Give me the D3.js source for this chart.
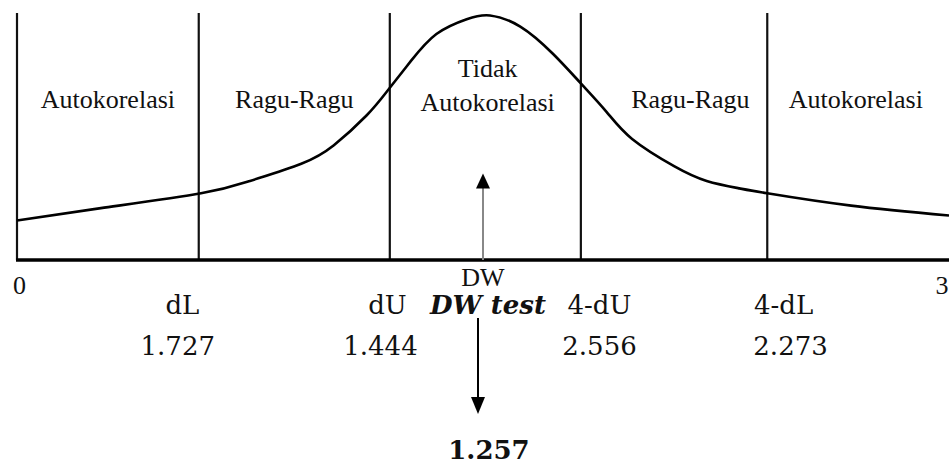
<!DOCTYPE html>
<html>
<head>
<meta charset="utf-8">
<script src="https://cdn.jsdelivr.net/npm/d3@7"></script>
<style>
  body { margin: 0; background: #fff; }
  svg { display: block; }
  .zone-label { font-family: "Liberation Serif", "Times New Roman", serif; font-size: 26px; fill: #111; }
  .bound-label { font-family: "DejaVu Serif", serif; font-size: 26px; fill: #111; }
</style>
</head>
<body>
<svg id="chart" width="949" height="464"></svg>
<script>
// DW scale: 0..4, curve height: 0..1 (relative density)
const curveX = [0, 0.36, 0.79, 1.0, 1.22, 1.36, 1.5, 1.59, 1.69, 1.8, 1.93, 2.03, 2.16, 2.3, 2.42, 2.53, 2.64, 2.82, 2.96, 3.1, 3.22, 3.58, 4.0];
const curveY = [0.16, 0.21, 0.27, 0.32, 0.39, 0.465, 0.585, 0.685, 0.805, 0.915, 0.975, 0.99, 0.945, 0.835, 0.715, 0.6, 0.49, 0.38, 0.32, 0.29, 0.27, 0.22, 0.18];

const boundaries = [0.78, 1.6, 2.42, 3.22];
const zoneLabels = [['Autokorelasi'], ['Ragu-Ragu'], ['Tidak', 'Autokorelasi'], ['Ragu-Ragu'], ['Autokorelasi']];
const zoneCenters = [0.39, 1.19, 2.02, 2.89, 3.6];

const boundNames = ['dL', 'dU', '4-dU', '4-dL'];
const boundValues = ['1.727', '1.444', '2.556', '2.273'];
const nameCenters = [0.71, 1.59, 2.5, 3.29];
const valueCenters = [0.69, 1.56, 2.5, 3.32];

const axisTicks = [0, 4];
const axisLabels = ['0', '3'];

const dwPosition = 2.0;
const dwArrowTop = 0.35;
const dwTestLabel = 'DW test';
const dwValue = '1.257';

const svg = d3.select('#chart');

const x = d3.scaleLinear().domain([0, 4]).range([17, 949]);
const y = d3.scaleLinear().domain([0, 1]).range([260, 13]);

// vertical region lines (incl. left edge)
svg.append('g')
  .selectAll('line')
  .data([0].concat(boundaries))
  .enter()
  .append('line')
  .attr('x1', (d) => x(d))
  .attr('x2', (d) => x(d))
  .attr('y1', y(0))
  .attr('y2', y(1))
  .style('stroke', '#111')
  .style('stroke-width', 2.2);

// curve
const curve = curveX.map((d, i) => ({ x: d, y: curveY[i] }));
const lineGenerator = d3.line()
  .x((d) => x(d.x))
  .y((d) => y(d.y))
  .curve(d3.curveNatural);

svg.append('path')
  .attr('d', lineGenerator(curve))
  .style('fill', 'none')
  .style('stroke', '#000')
  .style('stroke-width', 2.6);

// axis
const xAxis = svg.append('g')
  .attr('transform', `translate(0, ${y(0)})`)
  .call(d3.axisBottom(x)
    .tickValues(axisTicks)
    .tickFormat((d, i) => axisLabels[i])
    .tickSize(0)
    .tickSizeOuter(0)
    .tickPadding(16));

xAxis.select('.domain')
  .attr('d', `M${x(0) - 1},0H${x(4)}`)
  .style('stroke', '#000')
  .style('stroke-width', 3.5);

xAxis.selectAll('text')
  .attr('class', 'zone-label')
  .style('font-size', '26px')
  .attr('text-anchor', (d, i) => (i === 0 ? 'middle' : 'end'))
  .attr('dx', (d, i) => (i === 0 ? 2 : -1));

// zone labels
const zones = svg.append('g')
  .selectAll('text')
  .data(zoneLabels)
  .enter()
  .append('text')
  .attr('class', 'zone-label')
  .attr('text-anchor', 'middle')
  .attr('x', (d, i) => x(zoneCenters[i]))
  .attr('y', (d) => 108 - (d.length - 1) * 31);

zones.selectAll('tspan')
  .data((d) => d)
  .enter()
  .append('tspan')
  .attr('x', function () { return d3.select(this.parentNode).attr('x'); })
  .attr('dy', (d, i) => (i === 0 ? 0 : 34))
  .text((d) => d);

// DW up arrow (gray)
const ax = x(dwPosition);
svg.append('line')
  .attr('x1', ax)
  .attr('x2', ax)
  .attr('y1', y(0))
  .attr('y2', y(dwArrowTop) + 12)
  .style('stroke', '#888')
  .style('stroke-width', 2);

svg.append('path')
  .attr('d', `M${ax},${y(dwArrowTop)}L${ax - 7},${y(dwArrowTop) + 15}L${ax + 7},${y(dwArrowTop) + 15}Z`)
  .style('fill', '#000');

svg.append('text')
  .attr('class', 'zone-label')
  .attr('text-anchor', 'middle')
  .attr('x', ax)
  .attr('y', 286)
  .text('DW');

// bound names and values
svg.append('g')
  .selectAll('text')
  .data(boundNames)
  .enter()
  .append('text')
  .attr('class', 'bound-label')
  .attr('text-anchor', 'middle')
  .attr('x', (d, i) => x(nameCenters[i]))
  .attr('y', 314)
  .text((d) => d);

svg.append('g')
  .selectAll('text')
  .data(boundValues)
  .enter()
  .append('text')
  .attr('class', 'bound-label')
  .attr('text-anchor', 'middle')
  .attr('x', (d, i) => x(valueCenters[i]))
  .attr('y', 355)
  .text((d) => d);

// DW test result
svg.append('text')
  .attr('class', 'bound-label')
  .attr('text-anchor', 'middle')
  .attr('x', ax + 5)
  .attr('y', 314)
  .style('font-weight', 'bold')
  .style('font-style', 'italic')
  .text(dwTestLabel);

const dx = ax - 5;
svg.append('line')
  .attr('x1', dx)
  .attr('x2', dx)
  .attr('y1', 318)
  .attr('y2', 400)
  .style('stroke', '#000')
  .style('stroke-width', 2);

svg.append('path')
  .attr('d', `M${dx},414L${dx - 7},397L${dx + 7},397Z`)
  .style('fill', '#000');

svg.append('text')
  .attr('class', 'bound-label')
  .attr('text-anchor', 'middle')
  .attr('x', ax + 6)
  .attr('y', 459)
  .style('font-weight', 'bold')
  .text(dwValue);
</script>
</body>
</html>
